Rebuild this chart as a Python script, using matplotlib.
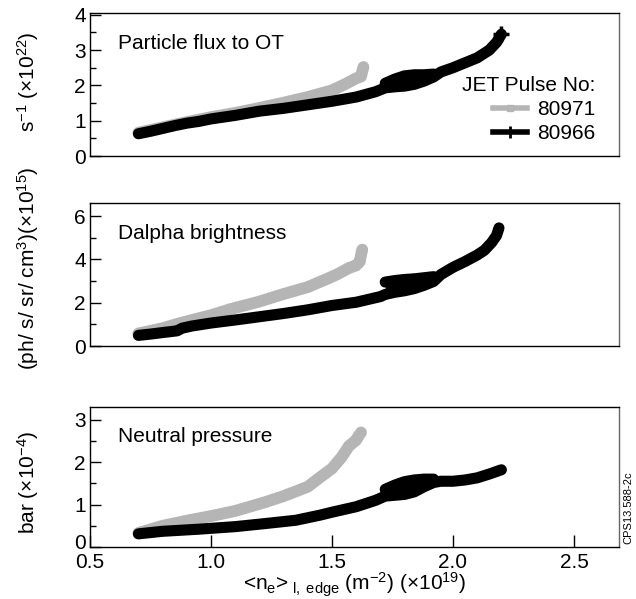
import matplotlib
matplotlib.use("Agg")
import matplotlib.pyplot as plt
import matplotlib.transforms as mtransforms
from matplotlib.lines import Line2D
from matplotlib.ticker import MultipleLocator

plt.rcParams['font.family'] = ['Liberation Sans', 'DejaVu Sans']
plt.rcParams['mathtext.fontset'] = 'custom'
plt.rcParams['mathtext.rm'] = 'Liberation Sans'
plt.rcParams['mathtext.it'] = 'Liberation Sans:italic'
plt.rcParams['mathtext.bf'] = 'Liberation Sans:bold'

# Densidade na borda (x10^19 m^-2) para os dois pulsos JET
GRAY = '#b5b5b5'
PULSES = ["80971", "80966"]

# zona de dispersao (ELMs) do pulso 80966: limite inferior esta na serie, superior em *_blob_hi
blob_x = [1.72, 1.76, 1.80, 1.84, 1.88, 1.92]

# Painel 1: fluxo de particulas para o OT (x10^22 s^-1)
flux_x_80971 = [0.70, 0.80, 0.90, 1.00, 1.10, 1.20, 1.30, 1.40, 1.50, 1.55, 1.60, 1.62, 1.625, 1.63]
flux_y_80971 = [0.66, 0.81, 0.96, 1.10, 1.22, 1.36, 1.51, 1.67, 1.86, 2.02, 2.20, 2.25, 2.40, 2.52]
flux_x_80966 = ([0.70, 0.75, 0.80, 0.85, 0.90, 0.95, 1.00, 1.10, 1.20, 1.30, 1.40, 1.50, 1.60, 1.68]
                + blob_x + [1.95, 2.00, 2.05, 2.10, 2.15, 2.18, 2.20])
flux_y_80966 = [0.63, 0.70, 0.78, 0.86, 0.93, 0.98, 1.05, 1.15, 1.27, 1.35, 1.45, 1.55, 1.67, 1.82,
                1.93, 1.96, 1.98, 2.03, 2.12, 2.24,
                2.38, 2.50, 2.64, 2.78, 3.00, 3.22, 3.45]
flux_blob_hi = [2.06, 2.18, 2.27, 2.30, 2.30, 2.32]

# Painel 2: brilho Dalpha (x10^15 ph/s/sr/cm^3)
dalpha_x_80971 = [0.70, 0.80, 0.87, 0.95, 1.00, 1.08, 1.20, 1.30, 1.40, 1.48, 1.52, 1.57, 1.60, 1.615, 1.62, 1.625]
dalpha_y_80971 = [0.58, 0.82, 1.05, 1.28, 1.42, 1.70, 2.05, 2.40, 2.72, 3.10, 3.30, 3.60, 3.72, 3.90, 4.20, 4.45]
dalpha_x_80966 = ([0.70, 0.75, 0.80, 0.86, 0.88, 0.92, 1.00, 1.10, 1.20, 1.30, 1.40, 1.50, 1.60, 1.70]
                  + blob_x + [1.95, 2.00, 2.05, 2.10, 2.13, 2.16, 2.18, 2.19])
dalpha_y_80966 = [0.49, 0.55, 0.62, 0.70, 0.82, 0.92, 1.06, 1.20, 1.35, 1.50, 1.67, 1.87, 2.02, 2.28,
                  2.38, 2.48, 2.55, 2.65, 2.80, 2.98,
                  3.30, 3.63, 3.90, 4.20, 4.42, 4.78, 5.10, 5.45]
dalpha_blob_hi = [2.95, 3.02, 3.07, 3.10, 3.15, 3.20]

# Painel 3: pressao neutra (x10^-4 bar)
press_x_80971 = [0.70, 0.80, 0.90, 1.01, 1.10, 1.22, 1.30, 1.40, 1.45, 1.50, 1.54, 1.57, 1.60, 1.61, 1.62]
press_y_80971 = [0.33, 0.50, 0.62, 0.74, 0.85, 1.05, 1.20, 1.42, 1.64, 1.85, 2.12, 2.38, 2.52, 2.62, 2.70]
press_x_80966 = ([0.70, 0.80, 0.95, 1.10, 1.22, 1.35, 1.45, 1.50, 1.60, 1.68]
                 + blob_x + [1.95, 2.00, 2.05, 2.10, 2.15, 2.20])
press_y_80966 = [0.31, 0.37, 0.42, 0.48, 0.55, 0.63, 0.75, 0.82, 0.95, 1.10,
                 1.20, 1.22, 1.24, 1.30, 1.42, 1.52,
                 1.55, 1.55, 1.58, 1.63, 1.72, 1.82]
press_blob_hi = [1.36, 1.46, 1.54, 1.58, 1.60, 1.60]

x_ticks = [0.5, 1.0, 1.5, 2.0, 2.5]
x_tick_labels = ["0.5", "1.0", "1.5", "2.0", "2.5"]

fig = plt.figure(figsize=(6.36, 5.99), dpi=100)

# posicoes dos paineis (left, bottom, width, height) em fracao da figura
W = 529 / 636
paineis = [
    dict(rect=[90 / 636, 1 - 156 / 599, W, 143 / 599], ylim=4.05, yticks=[0, 1, 2, 3, 4], minor=0.5,
         gx=flux_x_80971, gy=flux_y_80971, bx=flux_x_80966, by=flux_y_80966, hi=flux_blob_hi,
         nome="Particle flux to OT", ylabel=r"s$^{-1}$ (×10$^{22}$)", ly=82),
    dict(rect=[90 / 636, 1 - 346 / 599, W, 143 / 599], ylim=6.6, yticks=[0, 2, 4, 6], minor=1,
         gx=dalpha_x_80971, gy=dalpha_y_80971, bx=dalpha_x_80966, by=dalpha_y_80966, hi=dalpha_blob_hi,
         nome="Dalpha brightness", ylabel=r"(ph/ s/ sr/ cm$^3$)(×10$^{15}$)", ly=268),
    dict(rect=[90 / 636, 1 - 547 / 599, W, 140 / 599], ylim=3.3, yticks=[0, 1, 2, 3], minor=0.5,
         gx=press_x_80971, gy=press_y_80971, bx=press_x_80966, by=press_y_80966, hi=press_blob_hi,
         nome="Neutral pressure", ylabel=r"bar (×10$^{-4}$)", ly=482),
]

eixos = []
for i, p in enumerate(paineis):
    ax = fig.add_axes(p["rect"])
    ax.plot(p["gx"], p["gy"], color=GRAY, lw=8.5, solid_capstyle='round', solid_joinstyle='round')
    # limite inferior da zona de dispersao = pontos da serie nas posicoes blob_x
    k = p["bx"].index(blob_x[0])
    lo = p["by"][k:k + len(blob_x)]
    ax.fill_between(blob_x, lo, p["hi"], color='black', lw=0)
    ax.plot(blob_x, p["hi"], color='black', lw=8, solid_capstyle='round', solid_joinstyle='round')
    if i == 0:
        ax.plot(p["bx"], p["by"], color='black', lw=8, solid_capstyle='round',
                solid_joinstyle='round', marker='+', markevery=[-1], ms=11, mew=2.5)
    else:
        ax.plot(p["bx"], p["by"], color='black', lw=8, solid_capstyle='round', solid_joinstyle='round')
    ax.set_xlim(0.5, 2.686)
    ax.set_ylim(0, p["ylim"])
    ax.set_yticks(p["yticks"])
    ax.yaxis.set_minor_locator(MultipleLocator(p["minor"]))
    ax.tick_params(axis='y', which='major', direction='in', length=8, width=1, labelsize=15, pad=3)
    ax.tick_params(axis='y', which='minor', direction='in', length=4, width=1)
    for s in ax.spines.values():
        s.set_linewidth(1)
    ax.spines['right'].set_color('#666666')
    ax.text(0.053, 0.79, p["nome"], transform=ax.transAxes, fontsize=15, va='center', ha='left')
    fig.text(28 / 636, 1 - p["ly"] / 599, p["ylabel"], rotation=90, fontsize=15, ha='center', va='center')
    if i < 2:
        ax.set_xticks([])
    else:
        ax.set_xticks(x_ticks)
        ax.set_xticklabels(x_tick_labels)
        ax.tick_params(axis='x', direction='in', length=9, width=1, labelsize=15, pad=4)
        # o "0" do eixo y sobe um pouco para nao tocar no "0.5"
        lab0 = ax.yaxis.get_major_ticks()[0].label1
        lab0.set_transform(lab0.get_transform()
                           + mtransforms.ScaledTranslation(0, 4 / 72, fig.dpi_scale_trans))
    eixos.append(ax)

# legenda no painel de cima
handles = [
    Line2D([], [], color=GRAY, lw=4, marker='s', ms=4),
    Line2D([], [], color='black', lw=4, marker='+', ms=8, mew=2),
]
eixos[0].legend(handles, PULSES, title="JET Pulse No:", loc='upper right',
                bbox_to_anchor=(0.955, 0.56), frameon=False, fontsize=15, title_fontsize=15,
                alignment='right', handlelength=1.6, handletextpad=0.5, labelspacing=0.25,
                borderpad=0, borderaxespad=0)

eixos[2].set_xlabel(r"<n$_\mathrm{e}$>$_\mathrm{\ l,\ edge}$ (m$^{-2}$) (×10$^{19}$)", fontsize=15, labelpad=-1)

fig.text(628 / 636, 1 - 508 / 599, "CPS13.588-2c", rotation=90, fontsize=8, ha='center', va='center')

fig.savefig("out.png", dpi=100)
